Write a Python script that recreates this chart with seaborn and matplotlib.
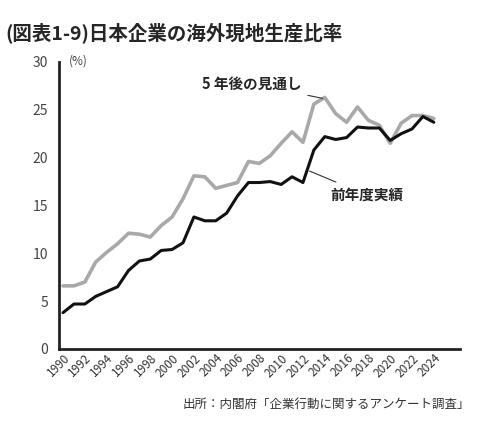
import matplotlib
matplotlib.use('Agg')

import pandas as pd
import matplotlib.pyplot as plt
import seaborn as sns

# data
years = list(range(1990, 2025))
actual = [3.8, 4.7, 4.7, 5.5, 6.0, 6.5, 8.2, 9.2, 9.4, 10.3, 10.4, 11.1, 13.8, 13.4, 13.4, 14.2,
          16.0, 17.4, 17.4, 17.5, 17.2, 18.0, 17.4, 20.8, 22.2, 21.9, 22.1, 23.2, 23.1, 23.1,
          21.8, 22.5, 23.0, 24.3, 23.7]
outlook = [6.6, 6.6, 7.0, 9.1, 10.1, 11.0, 12.1, 12.0, 11.7, 12.9, 13.8, 15.7, 18.1, 18.0, 16.8,
           17.1, 17.4, 19.6, 19.4, 20.2, 21.5, 22.7, 21.6, 25.6, 26.3, 24.6, 23.7, 25.3, 23.9,
           23.4, 21.5, 23.6, 24.4, 24.4, 24.1]
series_names = ['5 年後の見通し', '前年度実績']
xtick_years = list(range(1990, 2025, 2))
yticks = [0, 5, 10, 15, 20, 25, 30]

df = pd.DataFrame({'年': years * 2,
                   '比率': outlook + actual,
                   '系列': [series_names[0]] * len(years) + [series_names[1]] * len(years)})

sns.set_style('white')
plt.rcParams['font.family'] = ['Noto Sans CJK JP', 'DejaVu Sans']

fig = plt.figure(figsize=(5, 4.29), dpi=100)
ax = fig.add_axes([0.118, 0.1865, 0.802, 0.669])

sns.lineplot(data=df, x='年', y='比率', hue='系列', palette=['#a9a9a9', '#111111'],
             legend=False, ax=ax)
for line, lw in zip(ax.lines, [2.6, 2.2]):
    line.set_linewidth(lw)

ax.set_xlim(1989.63, 2026.4)
ax.set_ylim(0, 30)
ax.set_xticks(xtick_years)
ax.set_xticklabels([str(y) for y in xtick_years], rotation=45, ha='right',
                   rotation_mode='anchor', fontsize=8.5, color='#333333')
ax.set_yticks(yticks)
ax.set_yticklabels([str(v) for v in yticks], fontsize=10, color='#444444')
ax.tick_params(axis='y', length=0, pad=8)
ax.tick_params(axis='x', length=0, pad=2)
ax.set_xlabel('')
ax.set_ylabel('')
for s in ['top', 'right']:
    ax.spines[s].set_visible(False)
for s in ['left', 'bottom']:
    ax.spines[s].set_linewidth(2)
    ax.spines[s].set_color('#222222')

ax.text(1990.5, 30.1, '(%)', fontsize=8.5, color='#444444', va='center')

# labels with leader lines
ax.annotate(series_names[0], xy=(2013.8, 26.2), xytext=(2011.9, 27.7),
            fontsize=10.5, fontweight='bold', ha='right', va='center',
            arrowprops=dict(arrowstyle='-', color='#333333', lw=0.8, shrinkA=2, shrinkB=0))
ax.annotate(series_names[1], xy=(2012.6, 18.6), xytext=(2014.5, 16.1),
            fontsize=10.5, fontweight='bold', ha='left', va='center',
            arrowprops=dict(arrowstyle='-', color='#333333', lw=0.8, shrinkA=3, shrinkB=0))

fig.text(0.01, 0.925, '(図表1-9)日本企業の海外現地生産比率', fontsize=14, fontweight='bold',
         va='center', ha='left')
fig.text(0.94, 0.058, '出所：内閣府「企業行動に関するアンケート調査」', fontsize=9,
         color='#333333', va='center', ha='right')

fig.savefig('out.png', dpi=100)
